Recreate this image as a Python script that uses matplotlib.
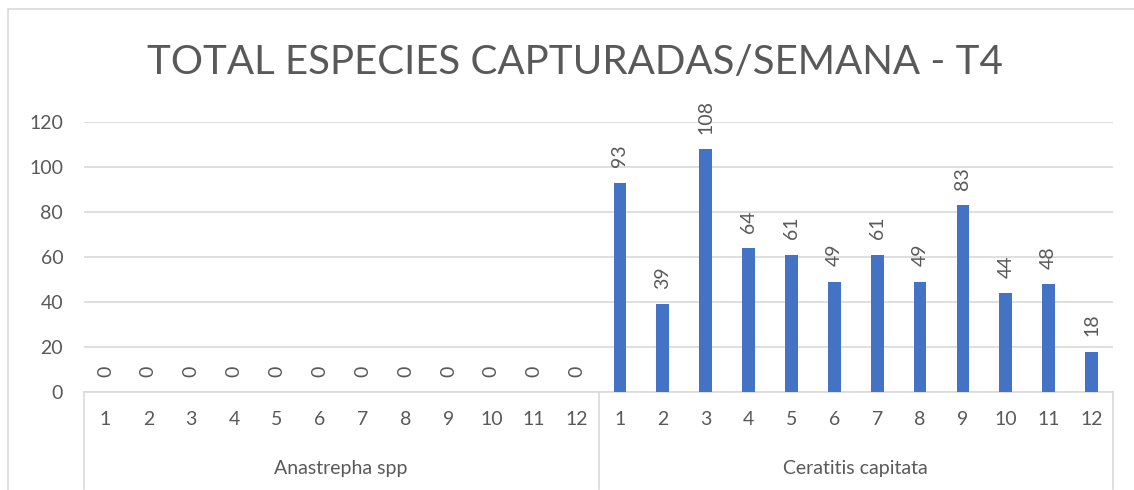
import numpy as np
import matplotlib
matplotlib.use("Agg")
import matplotlib.pyplot as plt
from matplotlib.patches import Rectangle
from matplotlib.transforms import blended_transform_factory

# datos
grupos = ["Anastrepha spp", "Ceratitis capitata"]
semanas = [str(i) for i in range(1, 13)]
anastrepha = [0, 0, 0, 0, 0, 0, 0, 0, 0, 0, 0, 0]
ceratitis = [93, 39, 108, 64, 61, 49, 61, 49, 83, 44, 48, 18]
titulo = "TOTAL ESPECIES CAPTURADAS/SEMANA - T4"

plt.rcParams['font.family'] = ['Lato', 'DejaVu Sans']
gris = "#595959"
linea = "#D9D9D9"

valores = anastrepha + ceratitis
etiquetas = semanas + semanas
x = np.arange(len(valores))

fig = plt.figure(figsize=(11.34, 4.9), dpi=100)
ax = fig.add_axes([84/1134, 98/490, 1029/1134, 270/490])

fig.patches.append(Rectangle((8/1134, -0.1), 1.2, 1 - 9/490 + 0.1,
                             transform=fig.transFigure, fill=False,
                             edgecolor=linea, lw=1.2))

barras = ax.bar(x, valores, width=0.3, color="#4472C4", zorder=3)
ax.bar_label(barras, rotation=90, padding=11, fontsize=14, color=gris,
             clip_on=False)

ax.set_xlim(-0.5, len(valores) - 0.5)
ax.set_ylim(0, 120)
ax.set_yticks(range(0, 121, 20))
ax.set_xticks(x)
ax.set_xticklabels(etiquetas)
ax.tick_params(axis='both', length=0, labelsize=14, labelcolor=gris)
ax.tick_params(axis='x', pad=14)
ax.tick_params(axis='y', pad=15)
ax.grid(axis='y', color=linea, lw=1.2, zorder=0)
for s in ['top', 'right', 'left']:
    ax.spines[s].set_visible(False)
ax.spines['bottom'].set_color(linea)
ax.spines['bottom'].set_linewidth(1.2)

# eje de categorias en dos niveles
tr = blended_transform_factory(ax.transData, ax.transAxes)
n = len(semanas)
for xv in [-0.5, n - 0.5, 2 * n - 0.5]:
    ax.plot([xv, xv], [0, -0.36], color=linea, lw=1.2, transform=tr,
            clip_on=False)
for i, g in enumerate(grupos):
    ax.text(i * n + (n - 1) / 2, -0.285, g, transform=tr, ha='center',
            va='center', fontsize=14, color=gris)

fig.text(575/1134, 1 - 62/490, titulo, ha='center', va='center',
         fontsize=29, color=gris)

fig.savefig("out.png", dpi=100)
